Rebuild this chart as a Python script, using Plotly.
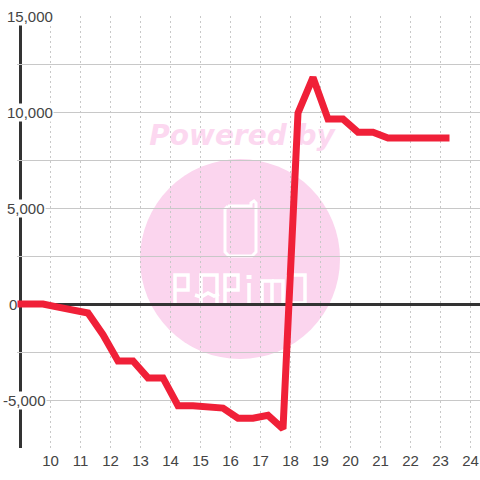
import plotly.graph_objects as go

# ---- data ----
hours = [8.75, 9.25, 9.75, 10.25, 10.75, 11.25, 11.75, 12.25, 12.75, 13.25, 13.75,
         14.25, 14.75, 15.25, 15.75, 16.25, 16.75, 17.25, 17.75, 18.25, 18.75,
         19.25, 19.75, 20.25, 20.75, 21.25, 21.75, 22.25, 22.75, 23.3]
values = [0, 0, 0, -160, -320, -470, -1600, -2970, -2970, -3850, -3850,
          -5300, -5300, -5360, -5420, -5950, -5950, -5800, -6500, 9950, 11800,
          9630, 9630, 8950, 8950, 8650, 8650, 8650, 8650, 8650]
x_ticks = list(range(10, 25))
y_grid = [-7500, -5000, -2500, 0, 2500, 5000, 7500, 10000, 12500, 15000]
y_labels = {15000: "15,000", 10000: "10,000", 5000: "5,000", 0: "0", -5000: "-5,000"}

# ---- layout helpers ----
W, H = 480, 480
L, R, T, B = 17, 0, 16, 32
pw, ph = W - L - R, H - T - B
px = lambda x: (x - L) / pw
py = lambda y: (H - B - y) / ph
label_left = {15000: 6, 10000: 6, 5000: 6, 0: 8, -5000: 2}

PINK = "#fbd5ee"
DARK = "#333333"
TEXT = "#444444"
WM = "#fcd8f0"


def path(points, width=3.5, color="white"):
    d = " ".join(("M" if i == 0 else "L") + f"{px(a):.5f},{py(b):.5f}" for i, (a, b) in enumerate(points))
    return dict(type="path", xref="paper", yref="paper", path=d, layer="below",
                line=dict(color=color, width=width))


shapes = [
    dict(type="circle", xref="paper", yref="paper", x0=px(140), x1=px(340), y0=py(359), y1=py(159),
         fillcolor=PINK, line=dict(width=0), layer="below"),
    dict(type="rect", xref="paper", yref="paper", x0=px(148), x1=px(336), y0=py(150), y1=py(116),
         line=dict(width=0), fillcolor="rgba(0,0,0,0)", layer="below",
         label=dict(text="<b><i>Powered by</i></b>", textposition="middle center",
                    font=dict(family="DejaVu Sans", size=28, color=WM))),
    # phone icon
    path([(228, 206), (251, 206), (251, 203), (254, 201), (256, 203), (256, 252), (252, 256),
          (229, 256), (225, 252), (225, 209), (228, 206)], width=3),
    # PAPiMO logo
    path([(175, 303), (175, 275), (188, 275), (188, 290), (175, 290)]),
    path([(201, 303), (201, 275), (217, 275), (217, 303)]),
    path([(195, 295), (201, 297), (208, 293), (214, 296), (219, 294)]),
    path([(225, 303), (225, 275), (238, 275), (238, 290), (225, 290)]),
    path([(249, 283), (249, 303)]),
    path([(249, 275), (249, 279)], width=5),
    path([(262, 303), (262, 281), (272, 281), (272, 303)]),
    path([(272, 281), (283, 281), (283, 303)]),
    path([(288, 275), (305, 275), (305, 303), (288, 303), (288, 275)]),
    # left axis line
    dict(type="line", xref="x", yref="paper", x0=9, x1=9, y0=0, y1=1, layer="between",
         line=dict(color=DARK, width=3)),
]

annotations = [
    dict(text=txt, xref="paper", yref="y", x=px(label_left[v]), y=v, xanchor="left", yanchor="middle",
         showarrow=False, bgcolor="white", borderpad=0,
         font=dict(family="Liberation Sans", size=15, color=TEXT))
    for v, txt in y_labels.items()
]

fig = go.Figure(go.Scatter(x=hours, y=values, mode="lines",
                           line=dict(color="#f02038", width=7), hoverinfo="skip"))
fig.update_layout(
    width=W, height=H, margin=dict(l=L, r=R, t=T, b=B, pad=0),
    paper_bgcolor="white", plot_bgcolor="rgba(0,0,0,0)", showlegend=False,
    shapes=shapes, annotations=annotations,
    xaxis=dict(range=[10 + (L - 50.5) / 30, 10 + (W - R - 50.5) / 30], tickvals=x_ticks,
               ticks="", showline=False, zeroline=False, ticklabelstandoff=2,
               gridcolor="#c8c8c8", gridwidth=1, griddash="2px,3px",
               tickfont=dict(family="Liberation Sans", size=15, color=TEXT)),
    yaxis=dict(range=[-7500, 15000], tickvals=y_grid, showticklabels=False, ticks="",
               showline=False, gridcolor="#c8c8c8", gridwidth=1,
               zeroline=True, zerolinecolor=DARK, zerolinewidth=3),
)
fig.write_html("out.html", config=dict(displayModeBar=False),
               post_script="document.body.style.margin='0';document.body.style.overflow='hidden';")
